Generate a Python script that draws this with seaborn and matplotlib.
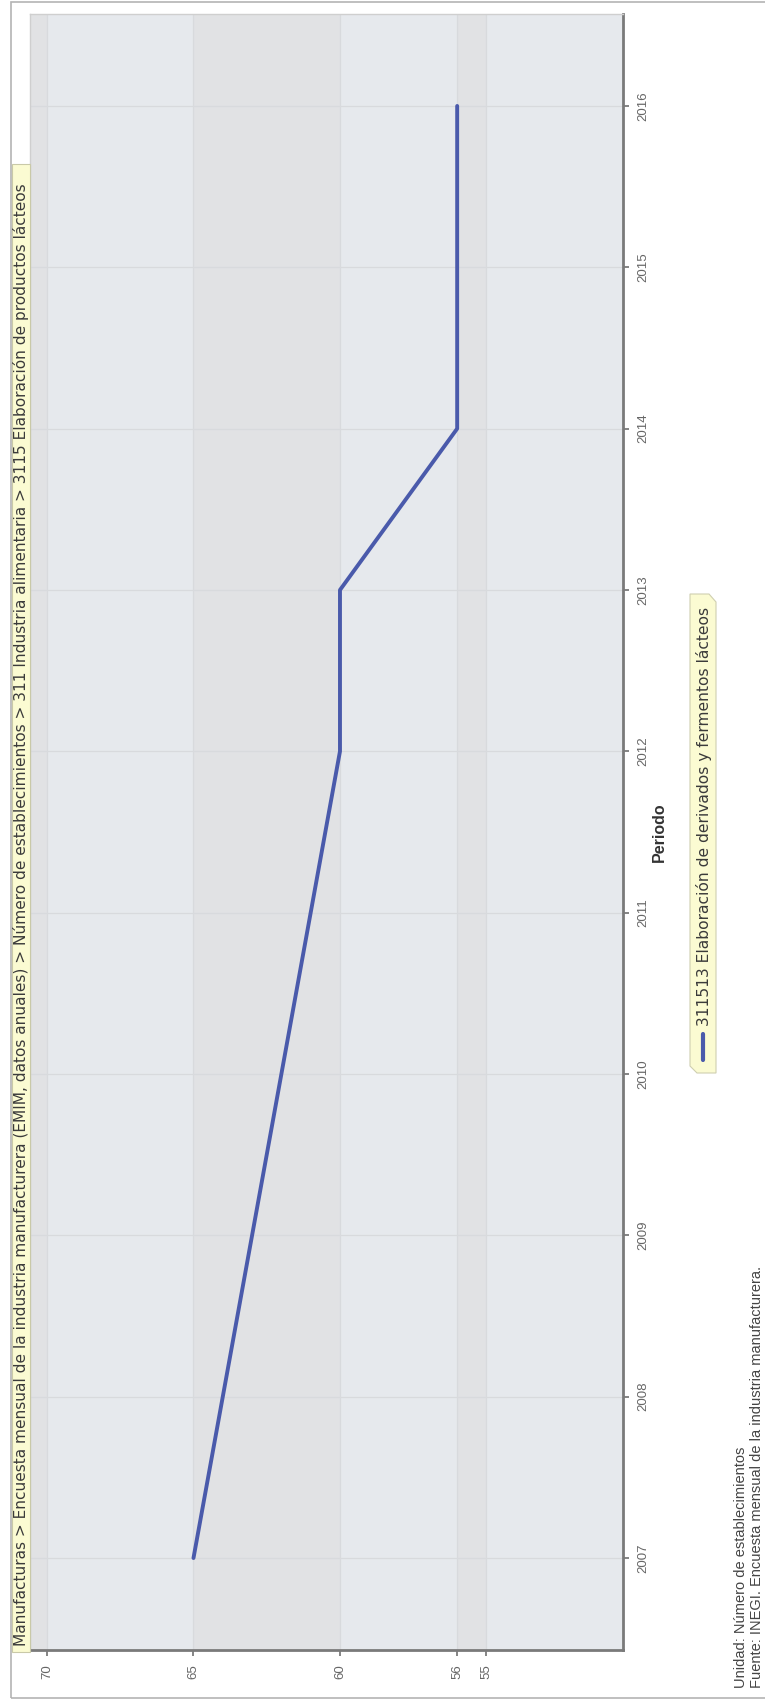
import matplotlib

matplotlib.use("Agg")

import matplotlib.pyplot as plt
import pandas as pd
import seaborn as sns
from matplotlib.lines import Line2D
from matplotlib.patches import Polygon, Rectangle

anios = [2007, 2012, 2013, 2014, 2016]
establecimientos = [65, 60, 60, 56, 56]
ticks_valor = [70, 65, 60, 56, 55]
ticks_anio = list(range(2007, 2017))
serie = "311513 Elaboración de derivados y fermentos lácteos"
titulo = ("Manufacturas > Encuesta mensual de la industria manufacturera (EMIM, datos anuales) > "
          "Número de establecimientos > 311 Industria alimentaria > 3115 Elaboración de productos lácteos")
nota_unidad = "Unidad: Número de establecimientos"
nota_fuente = "Fuente: INEGI. Encuesta mensual de la industria manufacturera."

sns.set_theme(style="white")
plt.rcParams["font.family"] = ["Liberation Sans", "DejaVu Sans"]

W, H = 765, 1700
fig = plt.figure(figsize=(W / 100, H / 100), dpi=100)
fig.patch.set_facecolor("white")


def fy(y):
    """Pixel row (from top) to figure fraction."""
    return 1 - y / H


# outer frame
fig.patches.append(Rectangle((11 / W, 2 / H), 760 / W, 1696 / H, transform=fig.transFigure,
                             fill=False, edgecolor="#b4b4b4", linewidth=1.2))

# the chart is drawn rotated: years run upward, values decrease to the right
ax = fig.add_axes([30 / W, 50 / H, 593 / W, 1636 / H])
ax.set_facecolor("#e6e9ed")
ax.set_xlim(70.58, 50.34)
ax.set_ylim(2006.43, 2016.57)

# alternating bands between value ticks
edges = [ax.get_xlim()[0]] + ticks_valor + [ax.get_xlim()[1]]
for i in range(len(edges) - 1):
    if i % 2 == 0:
        ax.axvspan(edges[i], edges[i + 1], color="#e1e2e4", zorder=0, linewidth=0)

ax.set_xticks(ticks_valor)
ax.set_yticks(ticks_anio)
ax.grid(True, color="#d8dadd", linewidth=0.9, zorder=1)
ax.set_axisbelow(True)

df = pd.DataFrame({"anio": anios, "valor": establecimientos})
sns.lineplot(data=df, x="valor", y="anio", orient="y", ax=ax, color="#4a5aab",
             linewidth=2.8, zorder=3)
line_color = ax.get_lines()[-1].get_color()

ax.yaxis.tick_right()
ax.yaxis.set_label_position("right")
ax.set_xticklabels([str(v) for v in ticks_valor], rotation=90, fontsize=9.5, color="#666666")
ax.set_yticklabels([str(a) for a in ticks_anio], rotation=90, va="center", fontsize=9.5,
                   color="#666666")
ax.tick_params(axis="both", length=4, width=1.2, color="#707070", pad=6)
ax.tick_params(axis="x", bottom=True)
ax.tick_params(axis="y", right=True, left=False)
ax.set_xlabel("")
ax.set_ylabel("Periodo", rotation=90, fontsize=11.5, fontweight="bold", color="#333333",
              labelpad=2)

for side in ["bottom", "right"]:
    ax.spines[side].set_color("#7a7a7a")
    ax.spines[side].set_linewidth(2)
for side in ["top", "left"]:
    ax.spines[side].set_color("#cfcfcf")
    ax.spines[side].set_linewidth(1)

# title box on the left side
fig.patches.append(Rectangle((12 / W, 48 / H), 18 / W, 1488 / H, transform=fig.transFigure,
                             facecolor="#fbfbd2", edgecolor="#c9c9a8", linewidth=0.8))
t_titulo = fig.text(21 / W, fy(1646), titulo, rotation=90, ha="center", va="bottom",
                    fontsize=11, color="#3a3a3a", family=["DejaVu Sans"])

# legend box on the right side
legend_box = [(690, 594), (709, 594), (716, 602), (716, 1073), (697, 1073), (690, 1066)]
fig.patches.append(Polygon([(x / W, fy(y)) for x, y in legend_box], closed=True,
                           transform=fig.transFigure, facecolor="#fbfbd2",
                           edgecolor="#cfcfb0", linewidth=0.8))
fig.lines.append(Line2D([703 / W, 703 / W], [fy(1060), fy(1034)],
                        transform=fig.transFigure, color=line_color, linewidth=3))
t_serie = fig.text(704 / W, fy(1026), serie, rotation=90, ha="center", va="bottom",
                   fontsize=11, color="#3a3a3a", family=["DejaVu Sans"])

# notes at the bottom right
t_unidad = fig.text(741 / W, fy(1688), nota_unidad, rotation=90, ha="center", va="bottom",
                    fontsize=10, color="#444444")
t_fuente = fig.text(757 / W, fy(1688), nota_fuente, rotation=90, ha="center", va="bottom",
                    fontsize=10, color="#444444")

# fit text lengths to the space they take in the reference
fig.canvas.draw()
renderer = fig.canvas.get_renderer()
for txt, target in [(t_titulo, 1470), (t_serie, 420), (t_unidad, 240)]:
    length = txt.get_window_extent(renderer).height
    txt.set_fontsize(txt.get_fontsize() * target / length)
t_fuente.set_fontsize(t_unidad.get_fontsize())

fig.savefig("out.png", dpi=100)
